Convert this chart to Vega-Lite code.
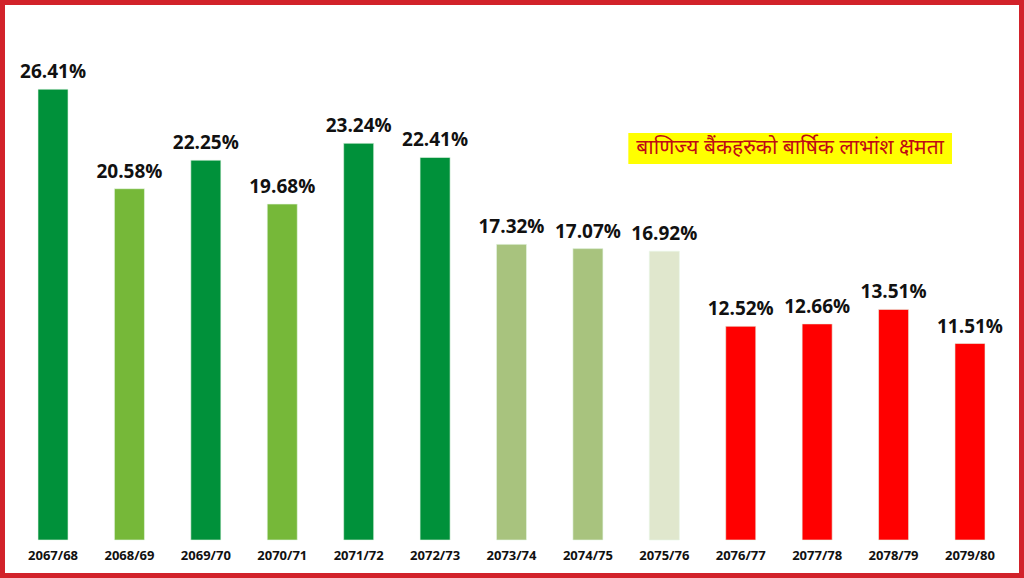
{
  "$schema": "https://vega.github.io/schema/vega-lite/v6.json",
  "description": "Annual dividend capacity of commercial banks, 2067/68 to 2079/80.",
  "width": 1024,
  "height": 578,
  "padding": 0,
  "autosize": {"type": "none"},
  "background": "white",
  "datasets": {
    "rates": [
      {"year": "2067/68", "rate": 26.41, "group": "dark"},
      {"year": "2068/69", "rate": 20.58, "group": "light"},
      {"year": "2069/70", "rate": 22.25, "group": "dark"},
      {"year": "2070/71", "rate": 19.68, "group": "light"},
      {"year": "2071/72", "rate": 23.24, "group": "dark"},
      {"year": "2072/73", "rate": 22.41, "group": "dark"},
      {"year": "2073/74", "rate": 17.32, "group": "pale"},
      {"year": "2074/75", "rate": 17.07, "group": "pale"},
      {"year": "2075/76", "rate": 16.92, "group": "faint"},
      {"year": "2076/77", "rate": 12.52, "group": "red"},
      {"year": "2077/78", "rate": 12.66, "group": "red"},
      {"year": "2078/79", "rate": 13.51, "group": "red"},
      {"year": "2079/80", "rate": 11.51, "group": "red"}
    ],
    "note": [
      {"label": "बाणिज्य बैंकहरुको बार्षिक लाभांश क्षमता", "from": "2075/76", "to": "2079/80", "mid": "2077/78", "top": 23.84, "bottom": 22.03, "center": 22.96}
    ]
  },
  "data": {"name": "rates"},
  "layer": [
    {
      "mark": {"type": "bar", "stroke": "#e8f6e8", "strokeWidth": 0.6},
      "encoding": {
        "x": {
          "field": "year",
          "type": "nominal",
          "sort": null,
          "scale": {"range": [38, 985], "paddingInner": 0.607, "paddingOuter": 0},
          "axis": {
            "title": null,
            "orient": "bottom",
            "offset": -38,
            "domain": false,
            "ticks": false,
            "labelAngle": 0,
            "labelPadding": 9,
            "labelFont": "Open Sans",
            "labelFontWeight": "bold",
            "labelFontSize": 13,
            "labelColor": "#111111"
          }
        },
        "y": {
          "field": "rate",
          "type": "quantitative",
          "scale": {"domain": [-2.226, 31.634], "nice": false, "zero": false},
          "axis": null
        },
        "y2": {"datum": 0},
        "color": {
          "field": "group",
          "type": "nominal",
          "scale": {
            "domain": ["dark", "light", "pale", "faint", "red"],
            "range": ["#00913A", "#76B839", "#A8C37E", "#E0E7CD", "#FF0000"]
          },
          "legend": null
        }
      }
    },
    {
      "transform": [{"calculate": "format(datum.rate, '.2f') + '%'", "as": "label"}],
      "mark": {
        "type": "text",
        "baseline": "alphabetic",
        "dy": -11,
        "font": "Open Sans",
        "fontWeight": "bold",
        "fontSize": 19,
        "color": "#111111"
      },
      "encoding": {
        "x": {"field": "year", "type": "nominal", "sort": null},
        "y": {"field": "rate", "type": "quantitative"},
        "text": {"field": "label"}
      }
    },
    {
      "data": {"name": "note"},
      "mark": {"type": "rect", "color": "#FFFF00", "xOffset": -36, "x2Offset": -18},
      "encoding": {
        "x": {"field": "from", "type": "nominal"},
        "x2": {"field": "to"},
        "y": {"field": "top", "type": "quantitative"},
        "y2": {"field": "bottom"}
      }
    },
    {
      "data": {"name": "note"},
      "mark": {
        "type": "text",
        "align": "center",
        "baseline": "middle",
        "dx": -27,
        "font": "Noto Sans",
        "fontSize": 21,
        "color": "#C00A14"
      },
      "encoding": {
        "x": {"field": "mid", "type": "nominal"},
        "y": {"field": "center", "type": "quantitative"},
        "text": {"field": "label"}
      }
    }
  ],
  "config": {
    "view": {"stroke": "#D2222A", "strokeWidth": 10}
  }
}
